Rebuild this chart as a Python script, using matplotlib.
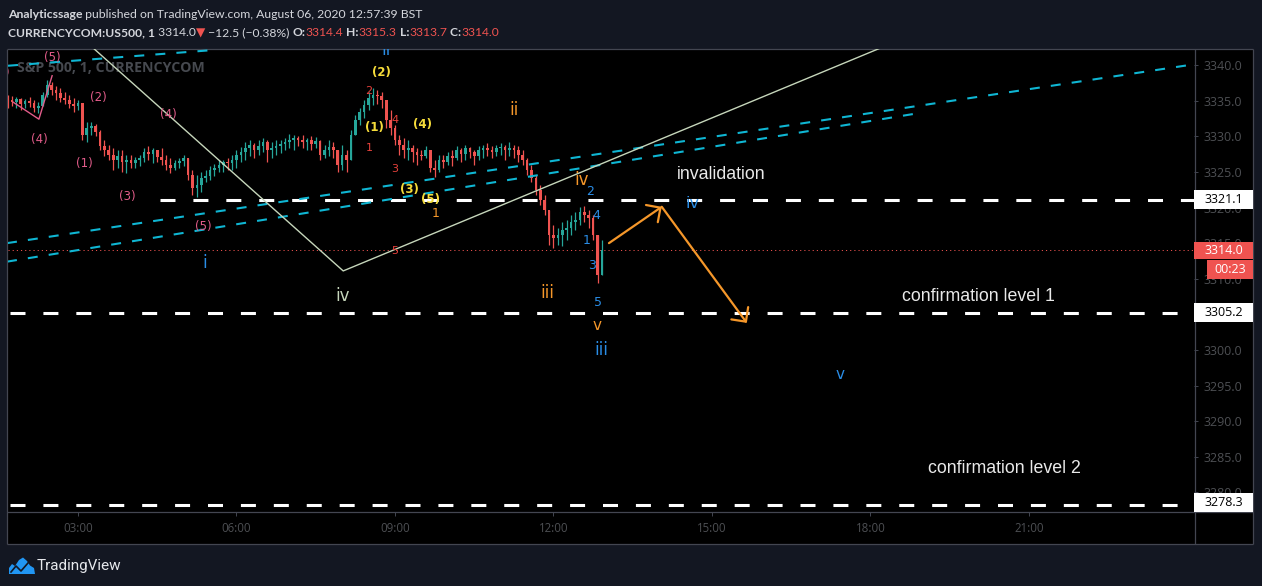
import matplotlib
matplotlib.use('Agg')
import matplotlib.pyplot as plt
import matplotlib.transforms as mtransforms
from matplotlib.patches import Rectangle, Polygon
import numpy as np

plt.rcParams['lines.scale_dashes'] = False

W, H, DPI = 1262, 586, 100

# ---------------- data ----------------
bar_start_hour = 1 + 40 / 60.0     # first 5-minute bar at 01:40
bar_minutes = 5
first_open = 3335.3
highs = [3335.8, 3335.6, 3335.5, 3335.4, 3335.2, 3335.5, 3335.1, 3334.8, 3336.2, 3337.9,
         3337.6, 3337.1, 3336.8, 3336.2, 3335.8, 3335.4, 3335.1, 3334.5, 3332.0, 3332.0,
         3331.7, 3330.9, 3329.5, 3328.8, 3328.4, 3328.1, 3328.1, 3327.4, 3327.4, 3327.1,
         3327.4, 3328.4, 3328.6, 3328.4, 3328.1, 3328.4, 3327.4, 3326.9, 3326.7, 3326.9,
         3327.4, 3326.9, 3325.3, 3324.6, 3325.0, 3325.3, 3325.8, 3326.1, 3326.7, 3326.7,
         3326.9, 3327.4, 3328.1, 3328.5, 3329.2, 3329.5, 3329.1, 3329.5, 3329.8, 3329.5,
         3329.2, 3329.5, 3329.5, 3329.8, 3330.3, 3330.2, 3330.0, 3330.2, 3329.8, 3330.0,
         3329.9, 3329.5, 3328.8, 3329.5, 3329.2, 3328.1, 3328.8, 3328.1, 3330.9, 3333.0,
         3334.0, 3335.1, 3336.2, 3336.8, 3336.5, 3336.2, 3335.1, 3333.7, 3331.6, 3330.2,
         3329.8, 3329.5, 3328.8, 3328.4, 3328.1, 3328.6, 3327.8, 3326.7, 3327.4, 3327.4,
         3327.8, 3328.1, 3328.6, 3328.4, 3328.8, 3328.5, 3328.1, 3328.6, 3328.8, 3329.1,
         3328.6, 3328.8, 3329.1, 3328.8, 3329.2, 3328.8, 3328.6, 3328.1, 3326.9, 3326.0,
         3324.6, 3323.2, 3321.8, 3319.6, 3317.5, 3317.1, 3318.0, 3318.2, 3318.9, 3319.4,
         3320.1, 3320.2, 3319.6, 3318.9, 3316.1, 3315.4]
lows = [3334.0, 3334.2, 3334.0, 3333.7, 3334.0, 3334.1, 3333.4, 3333.3, 3334.2, 3335.5,
        3335.8, 3335.1, 3334.8, 3334.5, 3334.0, 3333.4, 3333.7, 3329.5, 3329.2, 3330.2,
        3330.0, 3328.1, 3327.2, 3326.7, 3325.3, 3325.5, 3325.0, 3324.8, 3325.5, 3325.5,
        3325.8, 3326.4, 3326.7, 3326.2, 3326.4, 3326.0, 3325.3, 3324.8, 3325.3, 3325.5,
        3325.8, 3323.9, 3321.8, 3321.5, 3322.2, 3323.6, 3323.9, 3324.4, 3325.0, 3325.0,
        3325.3, 3325.3, 3325.5, 3326.4, 3326.7, 3327.2, 3326.9, 3327.4, 3327.8, 3326.4,
        3326.9, 3327.4, 3327.6, 3328.1, 3328.4, 3328.1, 3328.6, 3328.4, 3328.1, 3328.1,
        3328.4, 3326.7, 3326.9, 3327.2, 3326.9, 3325.0, 3325.3, 3325.0, 3326.7, 3330.2,
        3331.6, 3332.6, 3333.7, 3334.4, 3334.5, 3334.0, 3331.2, 3330.2, 3328.8, 3327.4,
        3326.9, 3326.7, 3326.4, 3326.0, 3326.7, 3326.9, 3325.0, 3324.3, 3325.0, 3325.5,
        3326.0, 3325.8, 3326.7, 3326.4, 3326.7, 3326.9, 3326.0, 3326.7, 3326.9, 3327.2,
        3326.9, 3327.2, 3327.4, 3326.7, 3327.2, 3326.9, 3326.4, 3326.0, 3324.6, 3323.6,
        3321.8, 3320.4, 3318.9, 3314.7, 3314.3, 3314.7, 3314.6, 3315.4, 3316.1, 3316.8,
        3317.5, 3318.0, 3317.1, 3315.4, 3309.4, 3311.2]
closes = [3335.1, 3334.8, 3335.2, 3334.5, 3334.9, 3334.7, 3334.0, 3334.2, 3335.8, 3337.2,
          3336.5, 3336.1, 3335.4, 3335.1, 3334.5, 3334.2, 3334.7, 3330.2, 3331.2, 3331.4,
          3330.6, 3328.6, 3328.1, 3327.4, 3326.7, 3327.2, 3326.4, 3326.7, 3326.2, 3326.7,
          3326.9, 3327.8, 3327.5, 3328.1, 3327.1, 3326.7, 3326.0, 3325.5, 3326.2, 3326.5,
          3326.9, 3324.6, 3322.7, 3323.2, 3324.1, 3324.4, 3325.3, 3325.5, 3326.0, 3326.4,
          3326.2, 3326.7, 3327.4, 3327.8, 3328.4, 3328.8, 3328.1, 3328.6, 3329.2, 3328.1,
          3328.4, 3328.6, 3328.9, 3329.2, 3329.5, 3329.8, 3329.5, 3329.2, 3329.5, 3328.9,
          3329.3, 3327.4, 3328.1, 3328.5, 3328.1, 3326.0, 3327.4, 3326.7, 3330.2, 3332.3,
          3333.4, 3334.4, 3335.4, 3335.8, 3335.6, 3335.1, 3332.3, 3331.2, 3329.5, 3328.8,
          3328.1, 3328.4, 3327.8, 3327.4, 3327.2, 3328.1, 3325.5, 3325.3, 3326.7, 3326.4,
          3327.2, 3326.9, 3328.1, 3327.5, 3328.4, 3327.8, 3327.2, 3328.1, 3328.4, 3328.1,
          3327.8, 3328.4, 3328.5, 3328.1, 3328.4, 3328.1, 3327.4, 3326.7, 3325.3, 3324.1,
          3322.5, 3321.1, 3319.6, 3316.1, 3315.7, 3316.1, 3316.8, 3317.1, 3318.0, 3318.2,
          3319.4, 3318.9, 3318.5, 3316.1, 3310.5, 3314.0]

time_ticks = [3, 6, 9, 12, 15, 18, 21]
time_labels = ['03:00', '06:00', '09:00', '12:00', '15:00', '18:00', '21:00']
price_ticks = [3280.0, 3285.0, 3290.0, 3295.0, 3300.0, 3305.0, 3310.0, 3315.0,
               3320.0, 3325.0, 3330.0, 3335.0, 3340.0]
invalidation_level = 3321.1
confirmation_level_1 = 3305.2
confirmation_level_2 = 3278.3
last_price = 3314.0
countdown = '00:23'

# trend / wave drawings (hour, price)
sage_wave_t = [3.30, 8.02, 18.16]
sage_wave_p = [3342.3, 3311.1, 3342.3]
pink_wave_t = [1.77, 2.26, 2.51]
pink_wave_p = [3334.8, 3332.4, 3338.5]
channel_upper_t = [1.656, 24.124]
channel_upper_p = [3315.0, 3340.1]
channel_lower_t = [1.656, 18.957]
channel_lower_p = [3312.4, 3333.3]
channel_top_t = [1.675, 5.555]
channel_top_p = [3339.9, 3342.1]
arrow_path_t = [13.05, 14.05, 15.66]
arrow_path_p = [3315.0, 3320.1, 3303.8]

PINK, YEL, RED, ORA, BLUE, SAGE = '#e25c8a', '#f6dc3a', '#e8423c', '#f5972a', '#2a8de6', '#c6d6bb'
wave_labels = [
    ('(3)', 1.54, 3338.9, PINK, 8.5, 'normal'),
    ('(5)', 2.51, 3341.1, PINK, 8.5, 'normal'),
    ('(4)', 2.26, 3329.5, PINK, 8.5, 'normal'),
    ('(2)', 3.38, 3335.5, PINK, 8.5, 'normal'),
    ('(1)', 3.13, 3326.2, PINK, 8.5, 'normal'),
    ('(3)', 3.93, 3321.5, PINK, 8.5, 'normal'),
    ('(4)', 4.72, 3333.0, PINK, 8.5, 'normal'),
    ('(5)', 5.37, 3317.3, PINK, 8.5, 'normal'),
    ('(2)', 8.75, 3339.0, YEL, 8.5, 'bold'),
    ('(1)', 8.62, 3331.2, YEL, 8.5, 'bold'),
    ('(4)', 9.53, 3331.7, YEL, 8.5, 'bold'),
    ('(3)', 9.27, 3322.5, YEL, 8.5, 'bold'),
    ('(5)', 9.68, 3321.1, YEL, 8.5, 'bold'),
    ('2', 8.51, 3336.4, RED, 8, 'normal'),
    ('4', 9.00, 3332.3, RED, 8, 'normal'),
    ('1', 8.51, 3328.4, RED, 8, 'normal'),
    ('3', 9.00, 3325.4, RED, 8, 'normal'),
    ('5', 9.00, 3313.9, RED, 8, 'normal'),
    ('1', 9.76, 3319.2, ORA, 9, 'normal'),
    ('ii', 11.25, 3333.7, ORA, 12, 'normal'),
    ('iv', 12.54, 3323.9, ORA, 12, 'normal'),
    ('iii', 11.88, 3308.0, ORA, 12, 'normal'),
    ('v', 12.82, 3303.5, ORA, 11, 'normal'),
    ('ii', 8.83, 3342.1, BLUE, 12, 'normal'),
    ('i', 5.39, 3312.2, BLUE, 12, 'normal'),
    ('2', 12.69, 3322.3, BLUE, 9, 'normal'),
    ('4', 12.82, 3318.9, BLUE, 9, 'normal'),
    ('1', 12.62, 3315.3, BLUE, 9, 'normal'),
    ('3', 12.73, 3311.9, BLUE, 9, 'normal'),
    ('5', 12.84, 3306.7, BLUE, 9, 'normal'),
    ('iii', 12.90, 3300.0, BLUE, 12, 'normal'),
    ('iv', 14.64, 3320.5, BLUE, 11.5, 'normal'),
    ('v', 17.42, 3296.6, BLUE, 11, 'normal'),
    ('iv', 8.00, 3307.6, SAGE, 12, 'normal'),
]
notes = [('invalidation', 14.34, 3324.6),
         ('confirmation level 1', 18.60, 3307.5),
         ('confirmation level 2', 19.09, 3283.3)]

# ---------------- figure ----------------
fig = plt.figure(figsize=(W / DPI, H / DPI), dpi=DPI, facecolor='#131722')

# pixel overlay (background panel, borders, header, footer)
ov = fig.add_axes([0, 0, 1, 1], zorder=-1)
ov.set_xlim(0, W); ov.set_ylim(H, 0); ov.axis('off')
ov.add_patch(Rectangle((7, 49), 1253 - 7, 544 - 49, facecolor='black', edgecolor='none'))
bc = '#434651'
for (x0, y0, x1, y1) in [(7, 49, 1253, 49), (7, 512, 1253, 512), (7, 544, 1253, 544),
                         (7, 49, 7, 544), (1194.5, 49, 1194.5, 544), (1253, 49, 1253, 544)]:
    ov.plot([x0, x1], [y0, y1], color=bc, lw=0.9, solid_capstyle='butt')

def px2fig(x0, y0, x1, y1):
    return [x0 / W, 1 - y1 / H, (x1 - x0) / W, (y1 - y0) / H]

ax = fig.add_axes(px2fig(8, 49, 1194, 512), zorder=1)
ax.set_facecolor('none')
for s in ax.spines.values():
    s.set_visible(False)
t_left, t_right = 1.675, 24.124
p_bot, p_top = 3277.26, 3342.25
ax.set_xlim(t_left, t_right)
ax.set_ylim(p_bot, p_top)

ax.set_xticks(time_ticks)
ax.set_xticklabels(time_labels, family='Open Sans')
ax.yaxis.tick_right()
ax.set_yticks(price_ticks)
ax.set_yticklabels([f'{v:.1f}' for v in price_ticks], family='Open Sans')
ax.tick_params(axis='x', length=2.9, width=0.7, color=bc, pad=4.5, labelsize=8.3, labelcolor='#4d4f53')
ax.tick_params(axis='y', length=2.9, width=0.7, color=bc, pad=4.2, labelsize=9, labelcolor='#4d4f53')

# watermark
ax.text(9 / 1186, 1 - (68 - 49) / 463, 'S&P 500, 1, CURRENCYCOM', transform=ax.transAxes,
        family='Open Sans', fontweight='bold', fontsize=10.2, color='#46494f',
        ha='left', va='center', zorder=0.5)

# candles
n = len(closes)
t = np.array([bar_start_hour + i * bar_minutes / 60.0 for i in range(n)])
c = np.array(closes)
o = np.array([first_open] + closes[:-1])
hi = np.maximum.reduce([np.array(highs), o, c])
lo = np.minimum.reduce([np.array(lows), o, c])
up = c >= o
cols = np.where(up, '#26a69a', '#ef5350')
ax.vlines(t, lo, hi, colors=cols, lw=0.9, zorder=2)
body_h = np.maximum(np.abs(c - o), 0.15)
ax.bar(t, body_h, bottom=np.minimum(o, c), width=3.0 / 60, color=cols, linewidth=0, zorder=2)

# dashed level lines
wd = dict(color='white', lw=2.2, dashes=(10.8, 12.9), solid_capstyle='butt', dash_capstyle='butt', zorder=3)
ax.plot([4.55, t_right], [invalidation_level] * 2, **wd)
ax.plot([t_left + 0.04, t_right], [confirmation_level_1] * 2, **wd)
ax.plot([t_left + 0.04, t_right], [confirmation_level_2] * 2, **wd)

# last price dotted line
ax.plot([t_left, t_right], [last_price] * 2, color='#ef5350', lw=0.7, dashes=(0.8, 2.2), zorder=1.5)

# channels
cd = dict(color='#0fb6d3', lw=1.5, dashes=(7.2, 8.0), dash_capstyle='butt', zorder=3)
ax.plot(channel_upper_t, channel_upper_p, **cd)
ax.plot(channel_lower_t, channel_lower_p, **cd)
ax.plot(channel_top_t, channel_top_p, **cd)

# wave lines
ax.plot(sage_wave_t, sage_wave_p, color=SAGE, lw=1.0, zorder=3)
ax.plot(pink_wave_t, pink_wave_p, color=PINK, lw=1.0, zorder=3)

# arrows
for k in range(2):
    ax.annotate('', xy=(arrow_path_t[k + 1], arrow_path_p[k + 1]),
                xytext=(arrow_path_t[k], arrow_path_p[k]),
                arrowprops=dict(arrowstyle='->,head_length=0.75,head_width=0.75',
                                color=ORA, lw=1.6, shrinkA=0, shrinkB=0), zorder=4)

# wave labels
for s, tt, pp, colr, fs, fw in wave_labels:
    ax.text(tt, pp, s, color=colr, fontsize=fs, fontweight=fw, family='DejaVu Sans',
            ha='center', va='center', clip_on=True, zorder=4)

for s, tt, pp in notes:
    ax.text(tt, pp, s, color='#e9e9e9', fontsize=12.8, family='Liberation Sans',
            ha='left', va='center', zorder=4)

# price axis boxes
blend = mtransforms.blended_transform_factory(ax.transAxes, ax.transData)
ppx = 7.125  # pixels per price unit
def price_box(level, text, fc, tc, x0px=0, x1px=59, hpx=19):
    half = hpx / 2 / ppx
    centre = max(level, p_bot + half)
    ax.add_patch(Rectangle((1 + x0px / 1186, centre - half), (x1px - x0px) / 1186, 2 * half,
                           transform=blend, facecolor=fc, edgecolor='none', clip_on=False, zorder=5))
    ax.text(1 + (x0px + x1px) / 2 / 1186, centre, text, transform=blend, ha='center', va='center',
            color=tc, fontsize=9, family='Open Sans', zorder=6, clip_on=False)

price_box(invalidation_level, f'{invalidation_level:.1f}', 'white', 'black')
price_box(confirmation_level_1, f'{confirmation_level_1:.1f}', 'white', 'black')
price_box(confirmation_level_2, f'{confirmation_level_2:.1f}', 'white', 'black')
price_box(last_price, f'{last_price:.1f}', '#ef5350', 'white', hpx=17)
price_box(last_price - 19.5 / ppx, countdown, '#ef5350', 'white', x0px=13, hpx=19)

# ---------------- header ----------------
renderer = fig.canvas.get_renderer()
def chain(x, y, pieces, fs):
    for s, colr, fw in pieces:
        tx = ov.text(x, y, s, color=colr, fontweight=fw, fontsize=fs,
                     family=['Lato', 'DejaVu Sans'], ha='left', va='center')
        bb = tx.get_window_extent(renderer=renderer)
        x += bb.width

TXT = '#d4d6dc'
chain(8, 14, [('Analyticssage', TXT, 'bold'),
              (' published on TradingView.com, August 06, 2020 12:57:39 BST', TXT, 'normal')], 8.8)
chain(8, 33, [('CURRENCYCOM:US500, 1', TXT, 'bold'), (' 3314.0', TXT, 'normal'),
              ('\u25BC', '#ef5350', 'normal'), (' \u221212.5 (\u22120.38%) ', TXT, 'normal'),
              ('O:', TXT, 'bold'), ('3314.4', '#ef5350', 'normal'),
              (' H:', TXT, 'bold'), ('3315.3', '#ef5350', 'normal'),
              (' L:', TXT, 'bold'), ('3313.7', '#ef5350', 'normal'),
              (' C:', TXT, 'bold'), ('3314.0', '#ef5350', 'normal')], 8.7)

# ---------------- footer ----------------
ov.add_patch(Polygon([(9, 574), (9, 568), (12, 564), (15, 566), (19, 560), (23, 557.5),
                      (27, 561), (30, 565.5), (34, 568), (35, 574)],
                     closed=True, facecolor='#2196f3', edgecolor='none'))
ov.plot([11, 16, 21, 28], [572, 566, 571, 563], color='#131722', lw=1.2)
ov.text(37, 566, 'TradingView', color='#e6e8ec', fontsize=11, family='Roboto',
        ha='left', va='center')

fig.savefig('out.png', dpi=DPI, facecolor=fig.get_facecolor())
